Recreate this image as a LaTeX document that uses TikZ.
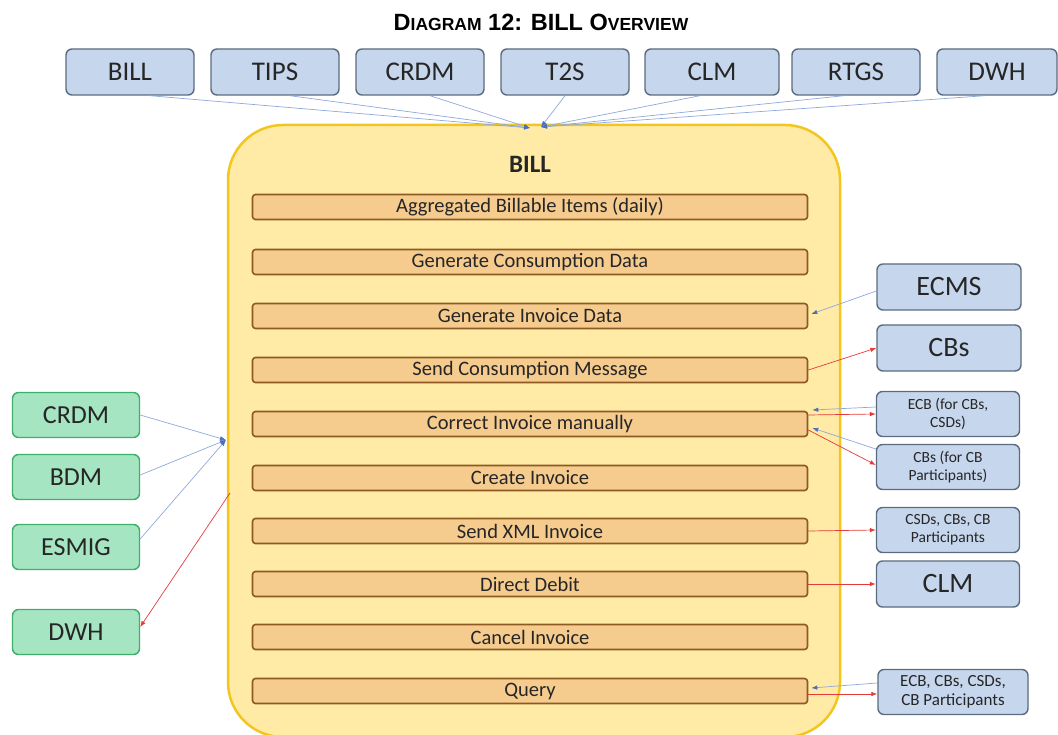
\documentclass[tikz,border=0pt]{standalone}
\usepackage{fontspec}
\setmainfont{Carlito}
\newfontfamily\arialf{Liberation Sans}
\usetikzlibrary{arrows.meta,calc}
\definecolor{bluefill}{HTML}{C6D6EC}
\definecolor{blueborder}{HTML}{5B6B80}
\definecolor{greenfill}{HTML}{A6E5C2}
\definecolor{greenborder}{HTML}{3FAE6A}
\definecolor{yellowfill}{HTML}{FFEBA6}
\definecolor{yellowborder}{HTML}{F2C61F}
\definecolor{barfill}{HTML}{F5CB8E}
\definecolor{barborder}{HTML}{8C5A22}
\definecolor{blueline}{HTML}{8FA8DA}
\definecolor{bluehead}{HTML}{4A6FC0}
\definecolor{redline}{HTML}{E53A3A}
\definecolor{textcol}{HTML}{262626}
\begin{document}
\begin{tikzpicture}[x=1pt,y=-1pt,
  topbox/.style={draw=blueborder, fill=bluefill, rounded corners=6pt, line width=1.4pt,
    minimum width=128pt, minimum height=46pt, inner sep=0pt, text=textcol,
    font=\fontsize{27}{29}\selectfont},
  sidebox/.style={topbox, minimum width=144pt, font=\fontsize{28}{30}\selectfont},
  smallbox/.style={draw=blueborder, fill=bluefill, rounded corners=6pt, line width=1.4pt,
    minimum width=143pt, minimum height=45pt, inner sep=0pt, text=textcol, align=center,
    font=\fontsize{15.5}{18}\selectfont},
  greenbox/.style={draw=greenborder, fill=greenfill, rounded corners=6pt, line width=1.4pt,
    minimum width=127pt, minimum height=45pt, inner sep=0pt, text=textcol,
    font=\fontsize{26}{28}\selectfont},
  bar/.style={draw=barborder, fill=barfill, rounded corners=3pt, line width=1.6pt,
    minimum width=555pt, minimum height=25pt, inner sep=0pt, text=textcol,
    font=\fontsize{20.5}{22}\selectfont},
  bl/.style={draw=blueline, line width=0.7pt, -{Latex[length=6pt,width=4.5pt,color=bluehead]}},
  rl/.style={draw=redline, line width=0.7pt, -{Latex[length=6pt,width=4.5pt,color=redline]}}
]
\useasboundingbox (0,0) rectangle (1058,735);

% title
\node (title) at (541,22) {\arialf\bfseries\fontsize{23.5}{25}\selectfont D{\fontsize{17.5}{19}\selectfont IAGRAM} 12: BILL O{\fontsize{17.5}{19}\selectfont VERVIEW}};

% top boxes
\node[topbox] (tBILL) at (130,72) {BILL};
\node[topbox] (tTIPS) at (275,72) {TIPS};
\node[topbox] (tCRDM) at (420,72) {CRDM};
\node[topbox] (tT2S) at (565,72) {T2S};
\node[topbox, minimum width=134pt] (tCLM) at (712,72) {CLM};
\node[topbox] (tRTGS) at (856,72) {RTGS};
\node[topbox, minimum width=120pt] (tDWH) at (997,72) {DWH};

% big yellow box
\node[draw=yellowborder, fill=yellowfill, line width=2.5pt, rounded corners=55pt,
  minimum width=612pt, minimum height=612pt, inner sep=0pt] (billbox) at (534,431) {};
\node[font=\bfseries\fontsize{25}{27}\selectfont, text=textcol] (billtitle) at (530,164) {BILL};

\coordinate (cL) at (530,128);
\coordinate (cR) at (541,127);

\draw[bl] ([xshift=20pt]tBILL.south) -- (cL);
\draw[bl] ([xshift=15pt]tTIPS.south) -- (cL);
\draw[bl] ([xshift=10pt]tCRDM.south) -- (cL);
\draw[bl] (tT2S.south) -- (cR);
\draw[bl] ([xshift=-12pt]tCLM.south) -- (cR);
\draw[bl] ([xshift=-12pt]tRTGS.south) -- (cR);
\draw[bl] ([xshift=-12pt]tDWH.south) -- (cR);

% bars
\node[bar] (b1) at (530,207) {Aggregated Billable Items (daily)};
\node[bar] (b2) at (530,262) {Generate Consumption Data};
\node[bar] (b3) at (530,316) {Generate Invoice Data};
\node[bar] (b4) at (530,370) {Send Consumption Message};
\node[bar] (b5) at (530,424) {Correct Invoice manually};
\node[bar] (b6) at (530,478) {Create Invoice};
\node[bar] (b7) at (530,531) {Send XML Invoice};
\node[bar] (b8) at (530,584) {Direct Debit};
\node[bar] (b9) at (530,637) {Cancel Invoice};
\node[bar] (b10) at (530,691) {Query};

% right boxes
\node[sidebox] (ecms) at (949,287) {ECMS};
\node[sidebox] (cbs) at (949,348) {CBs};
\node[smallbox] (ecb) at (948,414) {ECB (for CBs,\\CSDs)};
\node[smallbox] (cbp) at (948,467) {CBs (for CB\\Participants)};
\node[smallbox] (csd) at (948,530) {CSDs, CBs, CB\\Participants};
\node[sidebox, minimum width=143pt] (clm) at (948,584) {CLM};
\node[smallbox, minimum width=150pt, font=\fontsize{17}{19}\selectfont] (qry) at (953,692) {ECB, CBs, CSDs,\\CB Participants};

\draw[bl] ($(ecms.west)+(0,4)$) -- ($(b3.east)+(3,-2)$);
\draw[rl] (b4.east) -- ($(cbs.west)+(0,0)$);
\draw[bl] ($(ecb.west)+(0,-7)$) -- ($(b5.east)+(4,-14)$);
\draw[rl] ($(b5.east)+(0,-9)$) -- ($(ecb.west)+(0,0)$);
\draw[bl] ($(cbp.west)+(0,-18)$) -- ($(b5.east)+(4,4)$);
\draw[rl] ($(b5.east)+(0,6)$) -- ($(cbp.west)+(0,-2)$);
\draw[rl] (b7.east) -- (csd.west);
\draw[rl] (b8.east) -- (clm.west);
\draw[bl] ($(qry.west)+(0,-9)$) -- ($(b10.east)+(3,-3)$);
\draw[rl] ($(b10.east)+(0,3)$) -- ($(qry.west)+(0,2)$);

% left boxes
\node[greenbox] (lCRDM) at (76,415) {CRDM};
\node[greenbox] (lBDM) at (76,477) {BDM};
\node[greenbox] (lESMIG) at (76,547) {ESMIG};
\node[greenbox] (lDWH) at (76,632) {DWH};

\coordinate (cLeft) at (226,440);
\coordinate (cDWH) at (230,493);
\draw[bl] (lCRDM.east) -- (cLeft);
\draw[bl] ($(lBDM.east)+(0,-2)$) -- (cLeft);
\draw[bl] ($(lESMIG.east)+(0,-8)$) -- (cLeft);
\draw[rl] (cDWH) -- ($(lDWH.east)+(0,-5)$);
\end{tikzpicture}
\end{document}
